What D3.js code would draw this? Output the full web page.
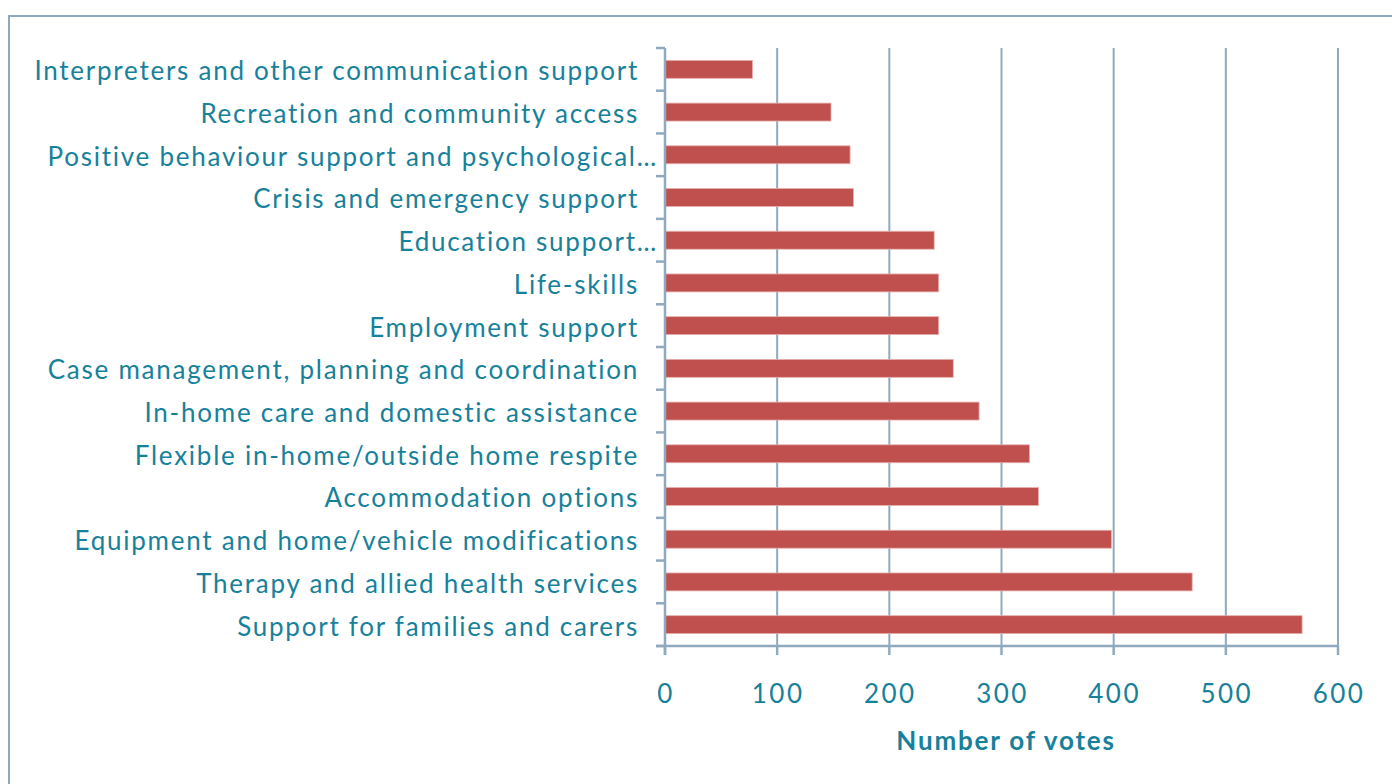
<!DOCTYPE html>
<html>
<head>
<meta charset="utf-8">
<script src="https://cdn.jsdelivr.net/npm/d3@7/dist/d3.min.js"></script>
<style>
  html, body { margin: 0; padding: 0; background: #fff; }
  svg { display: block; }
</style>
</head>
<body>
<svg id="chart" width="1392" height="784"></svg>
<script>
const categories = [
  "Interpreters and other communication support",
  "Recreation and community access",
  "Positive behaviour support and psychological…",
  "Crisis and emergency support",
  "Education support…",
  "Life-skills",
  "Employment support",
  "Case management, planning and coordination",
  "In-home care and domestic assistance",
  "Flexible in-home/outside home respite",
  "Accommodation options",
  "Equipment and home/vehicle modifications",
  "Therapy and allied health services",
  "Support for families and carers"
];
const votes = [78, 148, 165, 168, 240, 244, 244, 257, 280, 325, 333, 398, 470, 568];
const xTicks = [0, 100, 200, 300, 400, 500, 600];
const xTitle = "Number of votes";

const textColor = "#17819B";
const axisColor = "#8FA9BE";
const barColor = "#C0504D";
const font = "Lato, 'Open Sans', sans-serif";

const svg = d3.select("#chart");
const mLeft = 665, mRight = 1338, mTop = 48, mBottom = 646;

// outer frame
svg.append("rect")
  .attr("x", 9).attr("y", 16).attr("width", 1400).attr("height", 800)
  .attr("fill", "none").attr("stroke", axisColor).attr("stroke-width", 2);

const x = d3.scaleLinear().domain([0, 600]).range([mLeft, mRight]);
const y = d3.scaleBand().domain(categories).range([mTop, mBottom]).paddingInner(0.58).paddingOuter(0.29);
const yb = d3.scaleBand().domain(categories).range([mTop, mBottom]);

// gridlines
svg.append("g").selectAll("line").data(xTicks.filter(d => d > 0)).join("line")
  .attr("x1", d => x(d)).attr("x2", d => x(d))
  .attr("y1", mTop).attr("y2", mBottom)
  .attr("stroke", axisColor).attr("stroke-width", 2);

// bars
svg.append("g").selectAll("rect").data(categories).join("rect")
  .attr("x", x(0))
  .attr("y", d => y(d))
  .attr("width", (d, i) => x(votes[i]) - x(0))
  .attr("height", y.bandwidth())
  .attr("fill", barColor)
  .attr("stroke", "#E6B0AE").attr("stroke-width", 0.8);

// y axis line & ticks
const gy = svg.append("g");
gy.append("line").attr("x1", mLeft).attr("x2", mLeft).attr("y1", mTop).attr("y2", mBottom + 9)
  .attr("stroke", axisColor).attr("stroke-width", 2.5);
const yTickPos = categories.map(d => yb(d)).concat([mBottom]);
gy.selectAll("line.t").data(yTickPos).join("line").attr("class", "t")
  .attr("x1", mLeft - 9).attr("x2", mLeft).attr("y1", d => d).attr("y2", d => d)
  .attr("stroke", axisColor).attr("stroke-width", 2.5);

// category labels
svg.append("g").selectAll("text").data(categories).join("text")
  .attr("x", d => d.endsWith("…") ? 658 : 639)
  .attr("y", d => yb(d) + yb.bandwidth() / 2)
  .attr("dy", "0.42em")
  .attr("text-anchor", "end")
  .attr("fill", textColor)
  .attr("font-family", font)
  .attr("font-size", 26)
  .attr("letter-spacing", 1.75)
  .text(d => d);

// x axis
const gx = svg.append("g");
gx.append("line").attr("x1", mLeft - 9).attr("x2", mRight).attr("y1", mBottom).attr("y2", mBottom)
  .attr("stroke", axisColor).attr("stroke-width", 2.5);
gx.selectAll("line.t").data(xTicks).join("line").attr("class", "t")
  .attr("x1", d => x(d)).attr("x2", d => x(d)).attr("y1", mBottom).attr("y2", mBottom + 9)
  .attr("stroke", axisColor).attr("stroke-width", 2.5);
gx.selectAll("text").data(xTicks).join("text")
  .attr("x", d => x(d) + 1).attr("y", 703)
  .attr("text-anchor", "middle")
  .attr("fill", textColor)
  .attr("font-family", font)
  .attr("font-size", 26)
  .attr("letter-spacing", 2.5)
  .text(d => d);

svg.append("text")
  .attr("x", 1006).attr("y", 750)
  .attr("text-anchor", "middle")
  .attr("fill", textColor)
  .attr("font-family", font)
  .attr("font-size", 26)
  .attr("font-weight", "bold")
  .attr("letter-spacing", 1.8)
  .text(xTitle);
</script>
</body>
</html>
